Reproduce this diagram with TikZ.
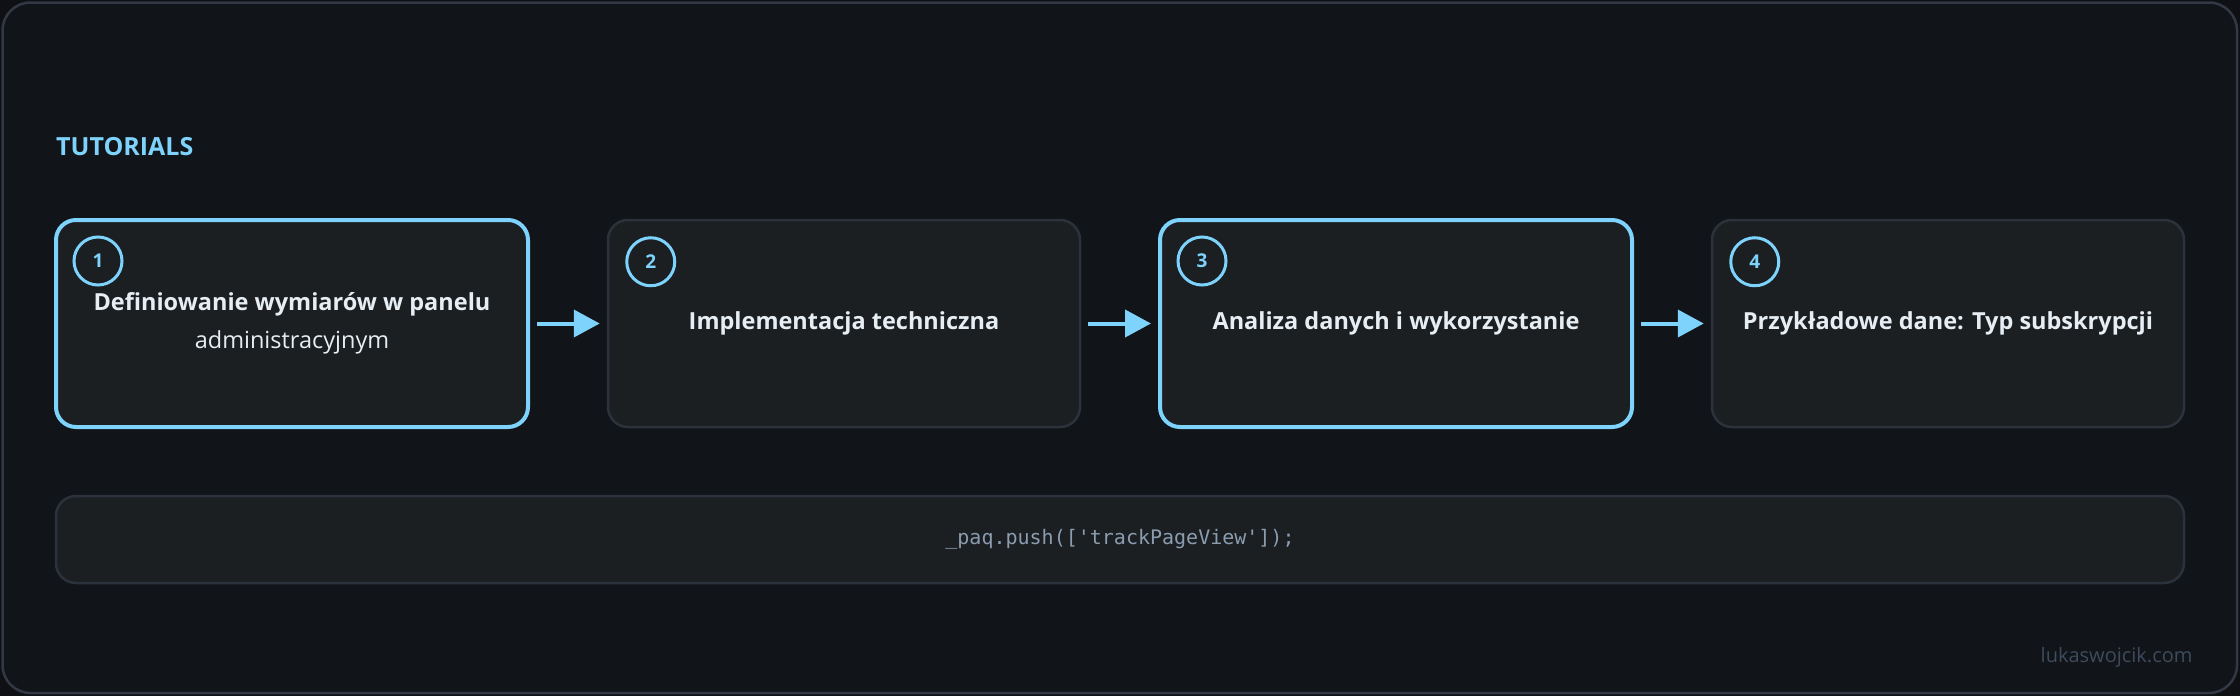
\documentclass[tikz,border=0pt]{standalone}
\usepackage{fontspec}
\setmainfont{Open Sans}
\setmonofont{DejaVu Sans Mono}
\usetikzlibrary{arrows.meta}
\definecolor{pagebg}{HTML}{0E1013}
\definecolor{canvas}{HTML}{111418}
\definecolor{framecol}{HTML}{323844}
\definecolor{boxfill}{HTML}{1B1F22}
\definecolor{boxline}{HTML}{2C323C}
\definecolor{accent}{HTML}{7DD3FC}
\definecolor{titletext}{HTML}{E6EDF3}
\definecolor{codetext}{HTML}{8B9CB0}
\definecolor{wmcol}{HTML}{3D4B5C}
\tikzset{
  stepbox/.style={draw=boxline, line width=2.5pt, fill=boxfill, rounded corners=20pt,
    minimum width=472pt, minimum height=207pt, inner sep=0pt, align=center,
    text=titletext, font=\fontsize{23.5}{38}\selectfont\bfseries},
  hotbox/.style={stepbox, draw=accent, line width=4pt},
  numcirc/.style={circle, draw=accent, line width=3pt, minimum size=48pt, inner sep=0pt,
    text=accent, font=\fontsize{19}{19}\selectfont\bfseries},
  flow/.style={draw=accent, line width=4pt, -{Triangle[length=26pt,width=27pt]},
    shorten <=7pt, shorten >=7pt},
  codebox/.style={draw=boxline, line width=2.5pt, fill=boxfill, rounded corners=20pt,
    minimum width=2128pt, minimum height=87pt, inner sep=0pt,
    text=codetext, font=\fontsize{20}{20}\selectfont\ttfamily}
}
\begin{document}
\begin{tikzpicture}[x=1pt,y=-1pt]
\useasboundingbox (0,0) rectangle (2240,696);
\fill[pagebg] (0,0) rectangle (2240,696);
\draw[framecol, line width=2.5pt, fill=canvas, rounded corners=28pt] (2.5,2.5) rectangle (2237,693);
\node[anchor=west, inner sep=0pt, text=accent, font=\fontsize{25}{25}\selectfont\bfseries] (head) at (56,147) {TUTORIALS};
\node[hotbox] (b1) at (292,323.5) {Definiowanie wymiarów w panelu\\{\mdseries administracyjnym}};
\node[stepbox] (b2) at (844,323.5) {Implementacja techniczna};
\node[hotbox] (b3) at (1396,323.5) {Analiza danych i wykorzystanie};
\node[stepbox] (b4) at (1948,323.5) {Przykładowe dane: Typ subskrypcji};
\foreach \b/\n in {b1/1,b2/2,b3/3,b4/4}{
  \node[numcirc] (c\n) at ([xshift=44pt,yshift=-43pt]\b.north west) {\n};
}
\draw[flow] (b1) -- (b2);
\draw[flow] (b2) -- (b3);
\draw[flow] (b3) -- (b4);
\node[codebox] (code) at (1120,539.5) {\_paq.push(['trackPageView']);};
\node[anchor=east, text=wmcol, font=\fontsize{20}{20}\selectfont] (wm) at (2196,657) {lukaswojcik.com};
\end{tikzpicture}
\end{document}
